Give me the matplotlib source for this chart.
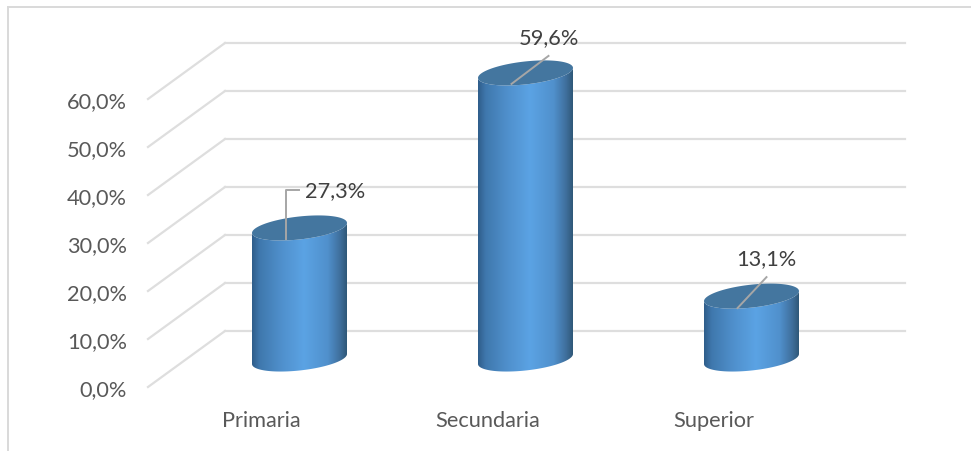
import numpy as np
import matplotlib
matplotlib.use("Agg")
import matplotlib.pyplot as plt
from matplotlib.colors import LinearSegmentedColormap
from matplotlib.lines import Line2D
from matplotlib.patches import PathPatch
from matplotlib.path import Path

categories = ["Primaria", "Secundaria", "Superior"]
values = [27.3, 59.6, 13.1]
value_labels = ["27,3%", "59,6%", "13,1%"]
grid_values = [0, 10, 20, 30, 40, 50, 60]
tick_labels = ["0,0%", "10,0%", "20,0%", "30,0%", "40,0%", "50,0%", "60,0%"]

W, H = 971, 451
PX_X = 226.0  # pixels per category
PX_Y = 4.8    # pixels per percent

plt.rcParams["font.family"] = ["Lato", "DejaVu Sans"]
fig = plt.figure(figsize=(W / 100, H / 100), dpi=100)
ax = fig.add_axes([0, 0, 1, 1])
ax.set_xlim(-299.5 / PX_X, (W - 299.5) / PX_X)
ax.set_ylim((331 - H) / PX_Y, 331 / PX_Y)
ax.axis("off")

text_color = "#595959"
grid_color = "#dedede"
font_size = 15.7


def px(dx, dy):
    # pixel offset -> data units (dy positive is up)
    return dx / PX_X, dy / PX_Y


# chart frame
for xs, ys in [((8, 8), (7, H)), ((8, W), (7, 7))]:
    fig.add_artist(Line2D([x / W for x in xs], [1 - y / H for y in ys], color="#d9d9d9", lw=1.4))

# grid on the back wall and left wall
x_back = (225 - 299.5) / PX_X
x_end = (905 - 299.5) / PX_X
dx_wall, dy_wall = px(-77, -56)
for v, lab in zip(grid_values, tick_labels):
    ax.plot([x_back, x_end], [v, v], color=grid_color, lw=1.6, zorder=1)
    ax.plot([x_back, x_back + dx_wall], [v, v + dy_wall], color=grid_color, lw=1.6, zorder=1)
    ax.text(x_back + px(-98, 0)[0], v + dy_wall - 3 / PX_Y, lab, ha="right", va="center",
            fontsize=font_size, color=text_color)

# category labels
base_y = (331 - 421) / PX_Y
label_dx = [-38, -38, -38]
for i, cat in enumerate(categories):
    ax.text(i + label_dx[i] / PX_X, base_y, cat, ha="center", va="center",
            fontsize=font_size, color=text_color)

# cylinders
cmap = LinearSegmentedColormap.from_list(
    "cyl", [(0, "#2f5d8a"), (0.08, "#3f78ad"), (0.3, "#4f8fcb"), (0.55, "#5ba3e4"),
            (0.8, "#5090cc"), (0.93, "#3f6f9c"), (1, "#2f5878")])
grad = np.linspace(0, 1, 256).reshape(1, -1)
half_w = 47.5
tilt = 5.0
half_h = 11.5
floor = (331 - 359) / PX_Y


def rim(i, v, t):
    x = i + half_w * np.cos(t) / PX_X
    y = v + (tilt * np.cos(t) + half_h * np.sin(t)) / PX_Y
    return x, y


for i, v in enumerate(values):
    top_v = floor + v
    t_low = np.linspace(np.pi, 2 * np.pi, 60)
    xb, yb = rim(i, floor, t_low)
    xt, yt = rim(i, top_v, t_low[::-1])
    verts = np.column_stack([np.r_[xb, xt], np.r_[yb, yt]])
    body = PathPatch(Path(np.vstack([verts, verts[:1]]), closed=True), fc="none", ec="none", zorder=3)
    ax.add_patch(body)
    im = ax.imshow(grad, cmap=cmap, aspect="auto", zorder=3, interpolation="bilinear",
                   extent=[i - half_w / PX_X, i + half_w / PX_X, floor - 20, top_v + 20])
    im.set_clip_path(body)

    t_all = np.linspace(0, 2 * np.pi, 120)
    xe, ye = rim(i, top_v, t_all)
    ax.fill(xe, ye, color="#44769f", lw=0, zorder=4)

ax.set_xlim(-299.5 / PX_X, (W - 299.5) / PX_X)
ax.set_ylim((331 - H) / PX_Y, 331 / PX_Y)

# data labels with leader lines, offsets in pixels from the cylinder top centre
leader = [[(-14, -11), (-14, 38), (-1, 38)], [(-14, -11), (23, 17)], [(-14, -12), (15, 19)]]
label_off = [(36, 36.5), (23, 35), (15, 37)]
for i, v in enumerate(values):
    top_v = floor + v
    pts = np.array(leader[i], dtype=float)
    ax.plot(i + pts[:, 0] / PX_X, top_v + pts[:, 1] / PX_Y, color="#a6a6a6", lw=1.4, zorder=5)
    ox, oy = px(*label_off[i])
    ax.text(i + ox, top_v + oy, value_labels[i], ha="center", va="center",
            fontsize=font_size, color="#404040", zorder=6)

fig.savefig("out.png", dpi=100, facecolor="white")
